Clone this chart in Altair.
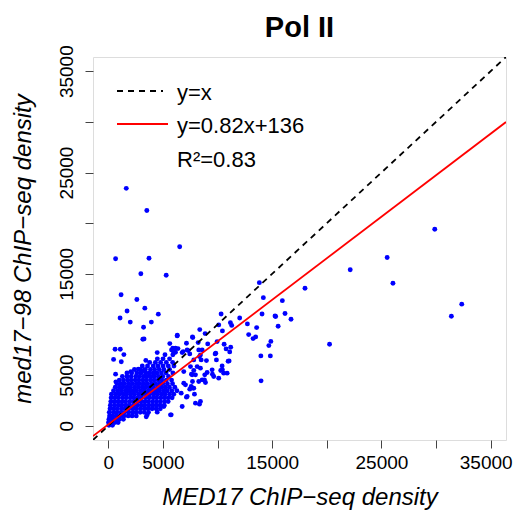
import altair as alt
import pandas as pd

# ---- axis / fit values ----
axis_domain = [-1400, 36400]
tick_values = [0, 5000, 10000, 15000, 20000, 25000, 30000, 35000]
fit_slope = 0.82
fit_intercept = 136
chart_title = "Pol II"
legend_labels = ["y=x", "y=0.82x+136", "R²=0.83"]

# ---- scattered points (MED17 density, med17-98 density) ----
outlier_med17 = [
    1645, 3527, 6534, 667, 3728, 2979, 5300, 1170, 2614, 3345, 1718, 4578, 1078, 2010, 3939, 3226,
    3272, 3162, 6315, 8371, 7704, 8864, 6378, 621, 1097, 1426, 484, 1188, 3436, 667, 694,
    10326, 12026, 11176, 11295, 10107, 10445, 12730, 12848, 13580, 13488, 13250, 13826, 14192,
    14073, 15261, 15316, 16175, 15928, 16723, 15544, 14877, 14694, 13963, 14831, 13982, 18002,
    20250, 22142, 25523, 26053, 29882, 31399, 32350,
    7155, 8224, 9961, 10600, 10783, 11203, 11112, 6854, 7219, 7457, 7822, 8435, 8499, 8983, 9778,
    9897, 11057, 6908, 7521, 7822, 7978, 8435, 9047, 9504, 9650, 10445, 10564, 10107, 8828, 9531,
    10875, 8800, 8892, 7704, 7585, 7767, 7457, 7886, 6908, 7064, 6671, 7155, 8343, 5757, 3473,
    5629, 6150, 4478, 5995, 6762, 2742, 2065, 3226,
    8343, 9102, 9833, 10966, 10418, 10290, 8590, 7612, 7311,
    3563, 4478, 5693, 5081, 6762, 7219, 7978, 8435, 7676, 8279, 7822,
    5903, 6150, 6305, 7731, 8279, 8590, 8133,
]
outlier_med17_98 = [
    23435, 21246, 17677, 16484, 16543, 15005, 14867, 12935, 12472, 11614, 11338, 11022, 10648, 10234, 10234, 9731,
    8577, 8548, 8942, 9494, 8775, 9100, 7621, 7562, 7562, 7030, 6556, 6330, 6458, 5097, 4338,
    11042, 10648, 10184, 9908, 9958, 9366, 10056, 9001, 9691, 8775, 8607, 14128, 12649,
    11042, 10845, 10796, 11091, 12353, 10520, 9829, 8331, 7917, 6901, 6901, 4437, 13576,
    8055, 15410, 16613, 14069, 19402, 10815, 12008,
    8153, 8212, 8311, 8055, 7591, 7759, 7296, 7325, 7493, 7098, 6507, 7000, 6507, 6438, 7098,
    6507, 6408, 5353, 5846, 5452, 5028, 5689, 5255, 5521, 4861, 5521, 5196, 4703, 5028, 5097,
    5196, 4535, 4269, 4367, 3875, 3717, 3618, 3125, 4210, 4042, 3224, 2830, 2139, 1084, 887,
    8114, 7660, 7227, 7227, 7227, 5590, 5353, 5452,
    6832, 8084, 7167, 6379, 5915, 5452, 4535, 5097, 7424,
    1084, 1350, 1084, 1903, 1903, 2889, 2238, 2396, 5028, 4367, 3717,
    7660, 7266, 8873, 8705, 7493, 7493, 5846,
]

# ---- dense cluster near the origin: (med17-98 level, MED17 values at that level) ----
cluster_rows = [
    (50, [60, 380]),
    (320, [20, 280, 600, 900]),
    (650, [60, 340, 690, 1020, 1380]),
    (980, [110, 420, 760, 1090, 1430, 1820, 2180, 2560]),
    (1330, [90, 460, 790, 1160, 1490, 1860, 2210, 2540, 2920, 3290, 3680]),
    (1690, [160, 510, 840, 1210, 1540, 1880, 2260, 2590, 2960, 3310, 3640, 4010, 4380, 4760]),
    (2040, [190, 560, 910, 1240, 1610, 1940, 2310, 2640, 3010, 3340, 3710, 4060, 4390, 4740, 5120]),
    (2390, [230, 540, 890, 1260, 1590, 1960, 2290, 2660, 2990, 3360, 3690, 4060, 4410, 4760, 5140, 5480]),
    (2760, [260, 610, 940, 1310, 1640, 2010, 2340, 2710, 3040, 3410, 3740, 4110, 4440, 4810, 5160, 5490, 5840]),
    (3110, [290, 660, 990, 1360, 1690, 2060, 2390, 2760, 3090, 3460, 3790, 4160, 4490, 4860, 5190, 5610, 5990]),
    (3460, [480, 860, 1190, 1560, 1890, 2260, 2590, 2960, 3290, 3660, 3990, 4360, 4690, 5060, 5390, 5810, 6280]),
    (3810, [640, 1010, 1340, 1710, 2040, 2410, 2740, 3110, 3440, 3810, 4140, 4510, 4840, 5210, 5590, 6090]),
    (4160, [790, 1160, 1490, 1860, 2190, 2560, 2890, 3260, 3590, 3960, 4290, 4660, 4990, 5410, 5880]),
    (4510, [1010, 1390, 1760, 2090, 2460, 2790, 3160, 3490, 3860, 4190, 4560, 4890, 5310, 5790]),
    (4860, [1290, 1710, 2090, 2510, 2840, 3210, 3540, 3910, 4240, 4610, 4990, 5510]),
    (5210, [1710, 2140, 2610, 2990, 3410, 3740, 4110, 4440, 4860, 5290, 5910]),
    (5560, [2390, 2910, 3390, 3860, 4240, 4660, 5090, 5610]),
    (5910, [3110, 3590, 4110, 4540, 5010, 5490, 6010]),
    (6260, [3790, 4310, 4790, 5310, 5890]),
    (6610, [4490, 5010, 5610]),
    (7010, [5190, 5910]),
    (7490, [5790]),
]

xs = list(outlier_med17)
ys = list(outlier_med17_98)
for level, row in cluster_rows:
    for v in row:
        xs.append(v)
        ys.append(level)
points_df = pd.DataFrame({"med17": xs, "med17_98": ys})

line_x = axis_domain
identity_df = pd.DataFrame({"med17": line_x, "med17_98": line_x})
fit_df = pd.DataFrame({"med17": line_x,
                       "med17_98": [fit_slope * v + fit_intercept for v in line_x]})

W, H = 413, 383
FONT = "Liberation Sans"
label_expr = "(datum.value == 10000 || datum.value == 20000 || datum.value == 30000) ? '' : datum.label"

x_scale = alt.Scale(domain=axis_domain, nice=False, zero=False)
y_scale = alt.Scale(domain=axis_domain, nice=False, zero=False)

x_axis = alt.Axis(
    values=tick_values, format="d", labelExpr=label_expr, grid=False, domain=False,
    tickSize=8, tickColor="#444444", tickWidth=1,
    labelFont=FONT, labelFontSize=19, labelColor="black", labelPadding=5,
    labelAlign="center", labelBaseline="top", labelFlush=False, labelOverlap=False,
    labelOffset={"condition": {"test": "datum.value == 35000", "value": -5}, "value": 0},
    title="MED17 ChIP−seq density", titleFont=FONT, titleFontSize=24, titleFontStyle="italic",
    titleFontWeight="normal", titleColor="black", titleX=W / 2, titleY=64,
    titleAlign="center", titleBaseline="alphabetic",
)
y_axis = alt.Axis(
    values=tick_values, format="d", labelExpr=label_expr, grid=False, domain=False,
    tickSize=8, tickColor="#444444", tickWidth=1,
    labelFont=FONT, labelFontSize=19, labelColor="black", labelPadding=9,
    labelAngle=270, labelAlign="center", labelBaseline="bottom", labelFlush=False, labelOverlap=False,
    title="med17−98 ChIP−seq density", titleFont=FONT, titleFontSize=24, titleFontStyle="italic",
    titleFontWeight="normal", titleColor="black", titleAngle=270, titleX=-63, titleY=H / 2,
    titleAlign="center", titleBaseline="alphabetic",
)

points = alt.Chart(points_df).mark_circle(color="#0000FF", size=24, opacity=1, clip=True).encode(
    x=alt.X("med17:Q", scale=x_scale, axis=x_axis),
    y=alt.Y("med17_98:Q", scale=y_scale, axis=y_axis),
)

identity = alt.Chart(identity_df).mark_line(color="black", strokeWidth=1.8, strokeDash=[6, 5], clip=True).encode(
    x=alt.X("med17:Q", scale=x_scale),
    y=alt.Y("med17_98:Q", scale=y_scale),
)
fit = alt.Chart(fit_df).mark_line(color="#FF0000", strokeWidth=1.8, clip=True).encode(
    x=alt.X("med17:Q", scale=x_scale),
    y=alt.Y("med17_98:Q", scale=y_scale),
)

# title as a text mark above the plot
title_mark = alt.Chart(pd.DataFrame({"label": [chart_title]})).mark_text(
    font=FONT, fontSize=29, fontWeight="bold", color="black", align="center", baseline="alphabetic"
).encode(x=alt.value(W / 2), y=alt.value(-20), text="label:N")

# legend
leg_line1 = alt.Chart(pd.DataFrame({"label": [legend_labels[0]]})).mark_rule(
    color="black", strokeWidth=1.8, strokeDash=[6, 5]).encode(
    x=alt.value(24), x2=alt.value(70), y=alt.value(34))
leg_line2 = alt.Chart(pd.DataFrame({"label": [legend_labels[1]]})).mark_rule(
    color="#FF0000", strokeWidth=1.8).encode(
    x=alt.value(24), x2=alt.value(75), y=alt.value(67))
leg_texts = []
for i, lab in enumerate(legend_labels):
    leg_texts.append(
        alt.Chart(pd.DataFrame({"label": [lab]})).mark_text(
            font=FONT, fontSize=22, color="black", align="left", baseline="alphabetic").encode(
            x=alt.value(84), y=alt.value(43 + 33.3 * i), text="label:N")
    )

chart = alt.layer(points, identity, fit, leg_line1, leg_line2, title_mark, *leg_texts).properties(
    width=W, height=H,
    autosize=alt.AutoSizeParams(type="none"),
    padding={"left": 85, "top": 49, "right": 7, "bottom": 70},
).configure_view(
    stroke="#444444", strokeWidth=1.2
).configure(font=FONT, background="white")

chart.save("out.html", embed_options={"renderer": "svg", "actions": False})
